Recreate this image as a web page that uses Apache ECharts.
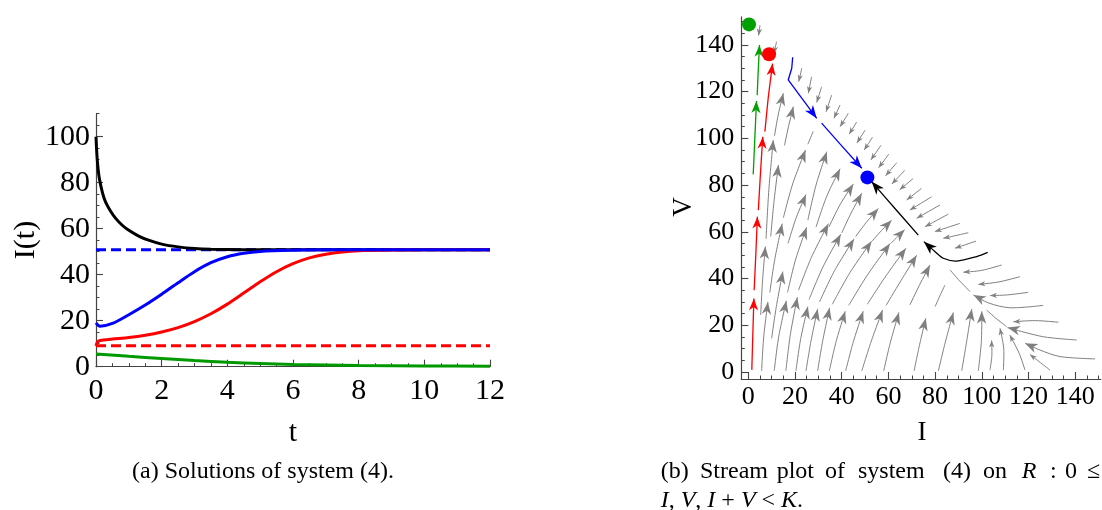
<!DOCTYPE html>
<html><head><meta charset="utf-8">
<script src="https://cdn.jsdelivr.net/npm/echarts@6/dist/echarts.min.js"></script>
<style>html,body{margin:0;padding:0;background:#fff}#c{width:1102px;height:510px}</style>
</head><body><div id="c"></div><script>
// ---------- panel (a): I(t) solutions ----------
const tTicks = [0, 2, 4, 6, 8, 10, 12];
const itTicks = [0, 20, 40, 60, 80, 100];
const blackT = [0, 0.02, 0.05, 0.1, 0.2, 0.3, 0.45, 0.6, 0.8, 1, 1.3, 1.6, 2, 2.5, 3, 3.5, 4.5, 6, 12];
const blackI = [100, 94, 88, 82, 75.5, 71.3, 67.5, 64.5, 61.5, 59.3, 56.8, 55, 53.3, 52.1, 51.4, 51.1, 50.9, 50.8, 50.8];
const blueT = [0, 0.12, 0.5, 1, 1.5, 2, 2.5, 3, 3.5, 4, 4.5, 5, 6, 7, 12];
const blueI = [19.1, 17.6, 18.8, 22.6, 26.8, 31.5, 36.5, 41.3, 45.2, 47.8, 49.3, 50.1, 50.6, 50.8, 50.8];
const redT = [0, 0.04, 0.12, 0.5, 1, 1.5, 2, 2.5, 3, 3.5, 4, 4.5, 5, 5.5, 6, 6.5, 7, 7.5, 8, 9, 10, 12];
const redI = [9.1, 10.6, 11.4, 12, 12.7, 13.7, 15.1, 17, 19.6, 23, 27.2, 32, 36.9, 41.3, 44.8, 47.3, 48.9, 49.9, 50.4, 50.7, 50.8, 50.8];
const greenT = [0, 1, 2, 3, 4, 5, 6, 8, 10, 12];
const greenI = [5.5, 4.5, 3.6, 2.7, 1.9, 1.4, 1, 0.5, 0.3, 0.2];
const eqBlue = 50.8;
const eqRed = 9.1;

// ---------- panel (b): stream plot (I, V) ----------
const ivTicks = [0, 20, 40, 60, 80, 100, 120, 140];
// gray streamline segments ending in a large arrowhead
const grayBig = [
  [[5.7,0.5],[6.6,15],[8.4,30]],
  [[11.1,0.5],[13,15],[16.3,30.5]],
  [[16.1,0.5],[18,16],[21,32]],
  [[20.4,0.5],[22.4,14],[25.5,28]],
  [[24.7,0.5],[26.8,13],[29.7,27]],
  [[29.7,0.5],[31.8,13],[34.8,27.5]],
  [[34.7,0.5],[37.6,13],[41.5,26]],
  [[41.7,0.5],[45,13],[49.2,26]],
  [[48.6,0.5],[52.6,13],[57.5,26.5]],
  [[58,0.5],[60.8,12.5],[64.5,25.5]],
  [[71,0.5],[73.2,11],[76,23]],
  [[81.4,0.5],[84.3,12.5],[87.8,25.5]],
  [[91.4,0.5],[93.5,13],[95.7,27]],
  [[98.5,0.5],[99.8,13],[100,26]],
  [[5.3,24.4],[6.1,39],[7.3,53.7]],
  [[10,14.4],[12,28],[14.8,43]],
  [[9.2,34],[11.3,48],[14.5,63.5]],
  [[16.8,34],[20.2,48],[25,62]],
  [[21.5,35],[27,49],[34.3,63.5]],
  [[26,31],[32,45],[39.6,59]],
  [[30.5,30],[37,43.5],[45.3,57]],
  [[36,29],[43.5,42.5],[52.8,56]],
  [[43,28.5],[51,41.5],[60.7,55]],
  [[51,29],[58.5,40.5],[67.5,53]],
  [[59,28.5],[65,38.5],[72.1,50]],
  [[69.2,28.7],[73.2,37],[77.8,45.8]],
  [[7.6,57],[8.8,78],[10.7,99.3]],
  [[9.6,58],[11,73],[12.9,88.6]],
  [[15,66],[19,80.5],[24.5,95]],
  [[17,55],[20.5,66],[24.7,76]],
  [[25.5,65],[29,80],[33.6,94.3]],
  [[29,62],[33.5,75],[39.3,87]],
  [[34.5,62],[39.5,72],[45,80.5]],
  [[40,59.5],[44,68],[48.6,76.5]],
  [[46,58],[50.5,64],[55.7,70]],
  [[53,56],[57,60.5],[61.4,65]],
  [[61,55],[64,58],[67,61]],
  [[11.2,101],[12.8,110],[15,119.3]],
  [[15.5,97],[17.2,105],[19.3,113.6]],
  [[148.5,5.6],[133.5,6.6],[124.9,9.4],[118.5,12.3]],
  [[140.6,13.7],[126.3,15.1],[111,19]],
  [[126.3,28.5],[112,27.5],[103,29.5],[96.4,33]]
];
// gray segments ending in a small arrowhead
const graySmall = [
  [[132.8,21.3],[123,22],[113.5,21.5]],
  [[119.9,34.1],[111,33],[103.5,32.7]],
  [[116.4,40.8],[107,38.5],[98.5,37.5]],
  [[108.5,45.8],[100,43.5],[92.1,42.7]],
  [[103.5,0.8],[104.3,7],[104.2,13.5]],
  [[109.2,0.8],[109.4,10],[107.8,18.7]],
  [[118.5,0.8],[116,8],[112,15.8]],
  [[129.2,0.8],[124.5,4.5],[120.6,7.5]],
  [[5,148.5],[4.4,144]],
  [[12.1,141.4],[11,136.4]],
  [[22.9,130],[21.6,124.3]],
  [[27.1,126.4],[25.7,119.3]],
  [[31.4,122.1],[29.3,115.4]],
  [[35.7,118.6],[33.3,111.4]],
  [[39.3,114.3],[36.7,108.6]],
  [[42.8,110.7],[39.3,105]],
  [[46.4,107],[43.2,101.8]],
  [[50,103.5],[46.5,98]],
  [[53.2,100.5],[49.6,95]],
  [[56.8,97],[52.5,90.8]],
  [[60.2,93.3],[55.8,87.4]],
  [[63.6,89.6],[58.8,84]],
  [[67,86.3],[61.5,80.5]],
  [[70.6,82.8],[64.8,78]],
  [[74.2,78.6],[67.8,73.6]],
  [[78.5,75],[69.2,69.3]],
  [[82.1,71.5],[72.1,65.8]],
  [[85.7,67.6],[75.7,62.2]],
  [[90.6,63.6],[79.9,60.1]],
  [[94.2,59.6],[83.5,57.2]],
  [[97.5,56],[88.5,53]]
];
// gray pieces without arrowhead
const grayPlain = [
  [[95,34.4],[90.5,39],[86.4,43.7]],
  [[110.7,19.4],[106,23],[102.1,26.5]],
  [[80,28],[82,32.5],[84.2,37.2]],
  [[25.5,97.5],[27.8,103]]
];
const greenPath = [
  [[2.1,84.6],[2.8,100],[3.5,116]],
  [[3.8,118.5],[4.3,130],[4.8,140]]
];
const redPath = [
  [[1.5,0.9],[1.9,15],[2.4,31.5]],
  [[2.5,35],[3.2,50],[3.9,66.5]],
  [[4.3,69.3],[5.2,85],[6.2,100.7]],
  [[7.1,102.9],[8.6,118],[10.4,132]]
];
const bluePath = [
  [[19,134.7],[18.6,130],[17.1,125],[23.2,116.8],[29.3,108.6]],
  [[31.4,106.5],[40,96.8],[48.6,87.2]]
];
const blackPath = [
  [[102.5,51.2],[97.8,49.4],[89.2,47.5],[83.5,48.7],[80,51.5],[75.2,55.8]],
  [[72.8,58.6],[62.8,70],[52.8,81.5]]
];
const eqGreen = [0.3, 148.8];
const eqRedPt = [8.9, 136];
const eqBluePt = [51, 83.3];

// ---------- helpers ----------
const SERIF = 'Liberation Serif';
const zip = (a, b) => a.map((v, i) => [v, b[i]]);
function every(step, from, to) { const r = []; for (let v = from; v <= to + 1e-9; v += step) r.push(+v.toFixed(3)); return r; }

function streamSeries(segs, color, width, arrowLen, smooth, z) {
  return {
    type: 'custom', xAxisIndex: 2, yAxisIndex: 2, silent: true, clip: false, z: z,
    data: segs.map(s => s[s.length - 1]),
    encode: { x: 0, y: 1 },
    renderItem: function (params, api) {
      const seg = segs[params.dataIndex];
      const pts = seg.map(p => api.coord(p));
      const children = [{
        type: 'polyline', shape: { points: pts, smooth: smooth },
        style: { stroke: color, lineWidth: width, fill: null }
      }];
      if (arrowLen > 0) {
        const n = pts.length, tip = pts[n - 1], prev = pts[n - 2];
        let dx = tip[0] - prev[0], dy = tip[1] - prev[1];
        const d = Math.hypot(dx, dy) || 1; dx /= d; dy /= d;
        const L = arrowLen, W = arrowLen * 0.38;
        const bx = tip[0] - dx * L, by = tip[1] - dy * L;
        const nx = -dy, ny = dx;
        const notch = [tip[0] - dx * L * 0.72, tip[1] - dy * L * 0.72];
        children.push({
          type: 'polygon',
          shape: { points: [tip, [bx + nx * W, by + ny * W], notch, [bx - nx * W, by - ny * W]] },
          style: { fill: color, stroke: null }
        });
      }
      return { type: 'group', children: children };
    }
  };
}

const axisColor = '#444';
function mainAxis(min, max, ticks, fontSize, margin, extra) {
  return Object.assign({
    type: 'value', min: min, max: max,
    axisLine: { show: true, onZero: false, lineStyle: { color: axisColor, width: 1.2 } },
    axisTick: { show: true, inside: true, length: 7, customValues: ticks, lineStyle: { color: axisColor, width: 1.1 } },
    axisLabel: {
      show: true, customValues: ticks, fontFamily: SERIF, fontSize: fontSize, color: '#000', margin: margin,
      formatter: function (v) { return '{s|' + v + '}'; },
      rich: { s: { fontFamily: SERIF, fontSize: fontSize, color: '#000' } }
    },
    splitLine: { show: false }, minorTick: { show: false }
  }, extra);
}
function minorAxis(min, max, ticks, extra) {
  return Object.assign({
    type: 'value', min: min, max: max,
    axisLine: { show: false, onZero: false },
    axisTick: { show: true, inside: true, length: 3.5, customValues: ticks, lineStyle: { color: axisColor, width: 1 } },
    axisLabel: { show: false }, splitLine: { show: false }
  }, extra);
}

const chart = echarts.init(document.getElementById('c'), null, { renderer: 'canvas' });
const lineBase = { type: 'line', xAxisIndex: 0, yAxisIndex: 0, showSymbol: false, symbol: 'none', silent: true, smooth: 0.3 };

chart.setOption({
  animation: false,
  backgroundColor: '#fff',
  textStyle: { fontFamily: SERIF },
  grid: [
    { left: 96, top: 113.7, width: 394, height: 253, outerBoundsMode: 'none', containLabel: false },
    { left: 741.3, top: 16.9, width: 359.6, height: 362.1, outerBoundsMode: 'none', containLabel: false }
  ],
  xAxis: [
    mainAxis(0, 12, tTicks, 30, 9, { gridIndex: 0, position: 'bottom' }),
    minorAxis(0, 12, every(0.5, 0, 12), { gridIndex: 0, position: 'bottom' }),
    mainAxis(-3, 151, ivTicks, 26, 5, { gridIndex: 1, position: 'bottom' }),
    minorAxis(-3, 151, every(5, 0, 150), { gridIndex: 1, position: 'bottom' })
  ],
  yAxis: [
    mainAxis(0, 110, itTicks, 30, 6, { gridIndex: 0, position: 'left' }),
    minorAxis(0, 110, every(5, 0, 110), { gridIndex: 0, position: 'left' }),
    mainAxis(-3, 152, ivTicks, 26, 7, { gridIndex: 1, position: 'left' }),
    minorAxis(-3, 152, every(5, 0, 150), { gridIndex: 1, position: 'left' })
  ],
  series: [
    Object.assign({}, lineBase, { name: 'eqBlue', smooth: false, data: [[0, eqBlue], [12, eqBlue]], lineStyle: { color: '#0000ff', width: 3, type: [10, 5] }, z: 2 }),
    Object.assign({}, lineBase, { name: 'eqRed', smooth: false, data: [[0, eqRed], [12, eqRed]], lineStyle: { color: '#ff0000', width: 3, type: [10, 5] }, z: 2 }),
    Object.assign({}, lineBase, { name: 'black', data: zip(blackT, blackI), lineStyle: { color: '#000', width: 3 }, z: 3 }),
    Object.assign({}, lineBase, { name: 'green', data: zip(greenT, greenI), lineStyle: { color: '#009a00', width: 3 }, z: 3 }),
    Object.assign({}, lineBase, { name: 'red', data: zip(redT, redI), lineStyle: { color: '#ff0000', width: 3 }, z: 4 }),
    Object.assign({}, lineBase, { name: 'blue', data: zip(blueT, blueI), lineStyle: { color: '#0000ff', width: 3 }, z: 5 }),

    streamSeries(grayPlain, '#808080', 1, 0, 0.3, 2),
    streamSeries(grayBig, '#808080', 1, 12.5, 0.3, 2),
    streamSeries(graySmall, '#808080', 1, 7, 0.3, 2),
    streamSeries(greenPath, '#00a000', 1.3, 12, 0.2, 3),
    streamSeries(redPath, '#ff0000', 1.3, 12, 0.2, 3),
    streamSeries(bluePath, '#0000ff', 1.3, 13, 0, 3),
    streamSeries(blackPath, '#000000', 1.3, 13, 0.3, 3),
    { type: 'scatter', xAxisIndex: 2, yAxisIndex: 2, silent: true, z: 5, symbolSize: 14,
      data: [
        { value: eqGreen, itemStyle: { color: '#00a000', opacity: 1 } },
        { value: eqRedPt, itemStyle: { color: '#ff0000', opacity: 1 } },
        { value: eqBluePt, itemStyle: { color: '#0000ff', opacity: 1 } }
      ] }
  ],
  graphic: [
    { type: 'text', x: 26, y: 240, rotation: Math.PI / 2, style: { text: 'I(t)', font: '30px "Liberation Serif"', align: 'center', verticalAlign: 'middle', fill: '#000' } },
    { type: 'text', x: 293, y: 433, style: { text: 't', font: '30px "Liberation Serif"', align: 'center', verticalAlign: 'middle', fill: '#000' } },
    { type: 'text', x: 684, y: 207, rotation: Math.PI / 2, style: { text: 'V', font: '27px "Liberation Serif"', align: 'center', verticalAlign: 'middle', fill: '#000' } },
    { type: 'text', x: 922, y: 433, style: { text: 'I', font: '27px "Liberation Serif"', align: 'center', verticalAlign: 'middle', fill: '#000' } },
    { type: 'text', x: 263, y: 472, style: { text: '(a) Solutions of system (4).', font: '24px "Liberation Serif"', align: 'center', verticalAlign: 'middle', fill: '#000' } },
    { type: 'group', children: [
      { type: 'text', x: 660.7, y: 472, style: { text: '(b)', font: '24px "Liberation Serif"', align: 'left', verticalAlign: 'middle', fill: '#000' } },
      { type: 'text', x: 700, y: 472, style: { text: 'Stream', font: '24px "Liberation Serif"', align: 'left', verticalAlign: 'middle', fill: '#000' } },
      { type: 'text', x: 776.7, y: 472, style: { text: 'plot', font: '24px "Liberation Serif"', align: 'left', verticalAlign: 'middle', fill: '#000' } },
      { type: 'text', x: 825, y: 472, style: { text: 'of', font: '24px "Liberation Serif"', align: 'left', verticalAlign: 'middle', fill: '#000' } },
      { type: 'text', x: 858, y: 472, style: { text: 'system', font: '24px "Liberation Serif"', align: 'left', verticalAlign: 'middle', fill: '#000' } },
      { type: 'text', x: 943, y: 472, style: { text: '(4)', font: '24px "Liberation Serif"', align: 'left', verticalAlign: 'middle', fill: '#000' } },
      { type: 'text', x: 983, y: 472, style: { text: 'on', font: '24px "Liberation Serif"', align: 'left', verticalAlign: 'middle', fill: '#000' } },
      { type: 'text', x: 1021.7, y: 472, style: { text: 'R', font: 'italic 24px "Liberation Serif"', align: 'left', verticalAlign: 'middle', fill: '#000' } },
      { type: 'text', x: 1050, y: 472, style: { text: ':', font: '24px "Liberation Serif"', align: 'left', verticalAlign: 'middle', fill: '#000' } },
      { type: 'text', x: 1065, y: 472, style: { text: '0', font: '24px "Liberation Serif"', align: 'left', verticalAlign: 'middle', fill: '#000' } },
      { type: 'text', x: 1087, y: 472, style: { text: '≤', font: '24px "Liberation Serif"', align: 'left', verticalAlign: 'middle', fill: '#000' } },
      { type: 'text', x: 660.7, y: 501, style: {
          text: '{i|I}, {i|V}, {i|I} + {i|V} < {i|K}.', font: '24px "Liberation Serif"', align: 'left', verticalAlign: 'middle', fill: '#000',
          rich: { i: { fontStyle: 'italic', fontFamily: 'Liberation Serif', fontSize: 24 } } } }
    ] }
  ]
});
</script></body></html>
